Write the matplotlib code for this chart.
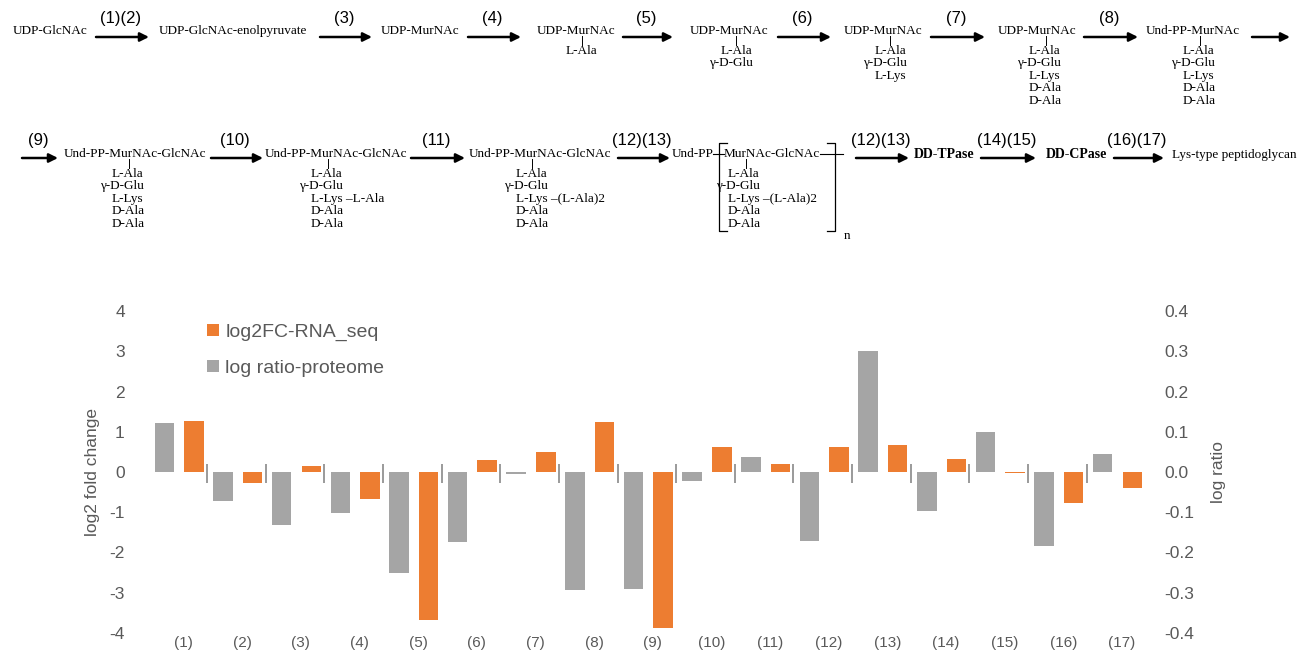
import numpy as np
import matplotlib
matplotlib.use('Agg')
from matplotlib import pyplot as plt
from matplotlib.patches import Patch

plt.rcParams['axes.unicode_minus'] = False
SANS = ['Liberation Sans', 'DejaVu Sans']
SERIF = ['Liberation Serif', 'DejaVu Serif']

# chart data
steps = ['(%d)' % i for i in range(1, 18)]
rna_log2fc = [1.26, -0.27, 0.15, -0.66, -3.67, 0.31, 0.49, 1.25, -3.88,
              0.63, 0.21, 0.63, 0.67, 0.33, -0.03, -0.78, -0.40]
proteome_ratio = [0.121, -0.073, -0.131, -0.101, -0.252, -0.173, -0.004, -0.292, -0.291,
                  -0.022, 0.037, -0.171, 0.300, -0.096, 0.099, -0.183, 0.045]

# pathway text
c_ala = ['L-Ala']
c_glu = ['L-Ala', 'γ-D-Glu']
c_lys = ['L-Ala', 'γ-D-Glu', 'L-Lys']
c_pent = ['L-Ala', 'γ-D-Glu', 'L-Lys', 'D-Ala', 'D-Ala']
c_pent1 = ['L-Ala', 'γ-D-Glu', 'L-Lys –L-Ala', 'D-Ala', 'D-Ala']
c_pent2 = ['L-Ala', 'γ-D-Glu', 'L-Lys –(L-Ala)2', 'D-Ala', 'D-Ala']

# (name, left x, chain, chain x, connector x)
row1 = [('UDP-GlcNAc', 13, [], 0, 0),
        ('UDP-GlcNAc-enolpyruvate', 159, [], 0, 0),
        ('UDP-MurNAc', 381, [], 0, 0),
        ('UDP-MurNAc', 537, c_ala, 566, 582),
        ('UDP-MurNAc', 690, c_glu, 721, 736),
        ('UDP-MurNAc', 844, c_lys, 875, 890),
        ('UDP-MurNAc', 998, c_pent, 1029, 1046),
        ('Und-PP-MurNAc', 1146, c_pent, 1183, 1200)]
row1_arrows = [(96, 149, '(1)(2)'), (320, 372, '(3)'), (468, 521, '(4)'),
               (623, 673, '(5)'), (778, 831, '(6)'), (931, 985, '(7)'),
               (1084, 1138, '(8)'), (1252, 1290, '')]
row2 = [('Und-PP-MurNAc-GlcNAc', 64, c_pent, 112, 129),
        ('Und-PP-MurNAc-GlcNAc', 265, c_pent1, 311, 328),
        ('Und-PP-MurNAc-GlcNAc', 469, c_pent2, 516, 532),
        ('MurNAc-GlcNAc', 724, c_pent2, 728, 746)]
row2_arrows = [(22, 58, '(9)'), (211, 263, '(10)'), (411, 465, '(11)'),
               (618, 670, '(12)(13)'), (856, 909, '(12)(13)'),
               (981, 1036, '(14)(15)'), (1114, 1164, '(16)(17)')]

fig = plt.figure(figsize=(13.12, 6.56), dpi=100)

# ---- pathway diagram (pixel coordinates) ----
ax0 = fig.add_axes([0, 0, 1, 1])
ax0.set_xlim(0, 1312)
ax0.set_ylim(656, 0)
ax0.axis('off')


def draw_row(items, arrows, y_name, y_chain, y_num, y_arrow):
    for name, x, chain, x0, xc in items:
        ax0.text(x, y_name, name, family=SERIF, fontsize=9.5, ha='left', va='center')
        if chain:
            ax0.plot([xc, xc], [y_name + 5, y_chain - 6], color='black', lw=0.7)
        for k, line in enumerate(chain):
            xx = x0 - 12 if line.startswith('γ') else x0
            ax0.text(xx, y_chain + 12.4 * k, line, family=SERIF, fontsize=9.5,
                     ha='left', va='center')
    for xa, xb, lab in arrows:
        ax0.annotate('', xy=(xb, y_arrow), xytext=(xa, y_arrow),
                     arrowprops=dict(arrowstyle='-|>', lw=1.8, color='black',
                                     mutation_scale=13, shrinkA=0, shrinkB=0))
        if lab:
            ax0.text((xa + xb) / 2 - 2, y_num, lab, family=SANS, fontsize=12,
                     ha='center', va='center')


draw_row(row1, row1_arrows, 31, 51, 18, 37)
draw_row(row2, row2_arrows, 154, 174, 141, 158)

ax0.text(672, 154, 'Und-PP', family=SERIF, fontsize=9.5, ha='left', va='center')
ax0.plot([713, 724], [154, 154], color='black', lw=0.8)
ax0.plot([820, 843], [154, 154], color='black', lw=0.8)
ax0.plot([727, 719, 719, 727], [143, 143, 231, 231], color='black', lw=0.9)
ax0.plot([827, 835, 835, 827], [143, 143, 231, 231], color='black', lw=0.9)
ax0.text(844, 236, 'n', family=SERIF, fontsize=9.5, ha='left', va='center')
ax0.text(914, 155, 'DD-TPase', family=SERIF, fontsize=10, weight='bold', ha='left', va='center')
ax0.text(1046, 155, 'DD-CPase', family=SERIF, fontsize=10, weight='bold', ha='left', va='center')
ax0.text(1172, 155, 'Lys-type peptidoglycan', family=SERIF, fontsize=9.5, ha='left', va='center')

# ---- bar chart ----
orange = '#ED7D31'
grey = '#A5A5A5'
txt = '#595959'
n = len(steps)
x = np.arange(n)
w = 0.333

ax = fig.add_axes([148.4 / 1312, 1 - 633 / 656, 996.9 / 1312, 322 / 656])
ax.patch.set_alpha(0)
ax2 = ax.twinx()

ax.bar(x + 0.278, rna_log2fc, w, color=orange, linewidth=0, zorder=3)
ax2.bar(x - 0.227, proteome_ratio, w, color=grey, linewidth=0, zorder=3)
ax.vlines(x[1:] - 0.5, -0.27, 0.2, color='#7F7F7F', lw=1.1, zorder=2)

ax.set_xlim(-0.5, n - 0.5)
ax.set_ylim(-4, 4)
ax2.set_ylim(-0.4, 0.4)
ax.set_yticks(np.arange(-4, 5))
ax.set_yticklabels([str(v) for v in range(-4, 5)])
ax2.set_yticks(np.arange(-4, 5) / 10)
ax2.set_yticklabels(['%.1f' % (v / 10) for v in range(-4, 5)])
ax.set_xticks(x + 0.1)
ax.set_xticklabels(steps)

for a in (ax, ax2):
    for s in a.spines.values():
        s.set_visible(False)
ax.tick_params(axis='y', length=0, pad=17, labelsize=12.5, labelcolor=txt)
ax2.tick_params(axis='y', length=0, pad=14, labelsize=12.5, labelcolor=txt)
ax.tick_params(axis='x', length=0, pad=2, labelsize=11, labelcolor=txt)
for t in ax.get_yticklabels() + ax2.get_yticklabels() + ax.get_xticklabels():
    t.set_family(SANS)

ax.set_ylabel('log2 fold change', family=SANS, fontsize=12.5, color=txt, va='center')
ax.yaxis.set_label_coords(-0.056, 0.5)
ax2.set_ylabel('log ratio', family=SANS, fontsize=12.5, color=txt, va='center', rotation=90)
ax2.yaxis.set_label_coords(1.0735, 0.5)

handles = [Patch(facecolor=orange, label='log2FC-RNA_seq'),
           Patch(facecolor=grey, label='log ratio-proteome')]
leg = ax2.legend(handles=handles, loc='upper left', bbox_to_anchor=(207 / 1312, 1 - 324 / 656),
                 bbox_transform=fig.transFigure, frameon=False, borderpad=0, borderaxespad=0,
                 handlelength=0.6, handleheight=0.6, handletextpad=0.35, labelspacing=0.95,
                 prop={'family': SANS, 'size': 14})
for t in leg.get_texts():
    t.set_color(txt)

fig.savefig('out.png', dpi=100)
